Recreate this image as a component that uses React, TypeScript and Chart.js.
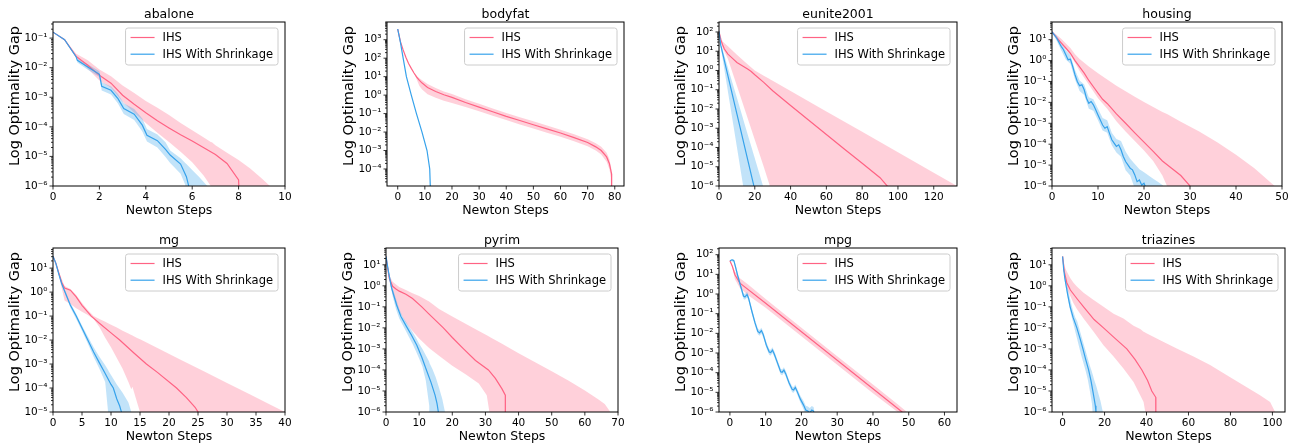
import React, { useEffect, useRef } from "react";
import { Chart, registerables } from "chart.js";

Chart.register(...registerables);

const FONT = "'DejaVu Sans', 'Liberation Sans', sans-serif";
const RED = "rgb(255, 99, 132)";
const RED_FILL = "rgba(255, 99, 132, 0.3)";
const BLUE = "rgb(54, 162, 235)";
const BLUE_FILL = "rgba(54, 162, 235, 0.3)";

// ---------------- abalone ----------------
const abaloneXTicks = [0, 2, 4, 6, 8, 10];
const abaloneIhsX = [0, 0.5, 1, 1.5, 2, 2.5, 3, 3.5, 4, 4.5, 5, 5.5, 6, 6.5, 7, 7.5, 8, 8.05];
const abaloneIhsMean = [0.159, 0.088, 0.0241, 0.012, 5.5e-3, 3.0e-3, 1.17e-3, 5.8e-4, 3.0e-4, 1.6e-4, 9.2e-5, 5.4e-5, 3.3e-5, 1.96e-5, 1.17e-5, 5.8e-6, 1.6e-6, 1e-7];
const abaloneIhsBandX = [0, 0.5, 1, 1.5, 2, 2.5, 3, 3.5, 4, 4.5, 5, 5.5, 6, 6.5, 6.8, 6.85, 7, 7.5, 8, 8.5, 9, 9.35, 9.4];
const abaloneIhsUpper = [0.16, 0.09, 0.0296, 0.0177, 8.6e-3, 5.1e-3, 2.5e-3, 1.4e-3, 7.5e-4, 4.4e-4, 2.5e-4, 1.36e-4, 7.7e-5, 4.4e-5, 3.1e-5, 3.0e-5, 2.4e-5, 1.33e-5, 7.5e-6, 3.9e-6, 1.8e-6, 1e-6, 1e-9];
const abaloneIhsLower = [0.158, 0.083, 0.0217, 9.2e-3, 3.7e-3, 2.1e-3, 7.0e-4, 3.0e-4, 1.36e-4, 6.3e-5, 3.1e-5, 1.44e-5, 6.3e-6, 2.2e-6, 1e-6, 1e-9, 1e-9, 1e-9, 1e-9, 1e-9, 1e-9, 1e-9, 1e-9];
const abaloneShrX = [0, 0.5, 1, 1.05, 1.5, 2, 2.1, 2.5, 2.8, 3.05, 3.5, 3.85, 4.05, 4.5, 4.85, 5.05, 5.5, 5.75, 5.85, 5.86];
const abaloneShrMean = [0.159, 0.088, 0.023, 0.0177, 0.0105, 5.96e-3, 2.35e-3, 1.72e-3, 9.0e-4, 4.15e-4, 2.67e-4, 1.14e-4, 5.2e-5, 3.4e-5, 1.72e-5, 1.11e-5, 5.5e-6, 2.06e-6, 1e-6, 1e-8];
const abaloneShrBandX = [0, 0.5, 1, 1.05, 1.5, 2, 2.1, 2.5, 2.8, 3.05, 3.5, 3.85, 4.05, 4.5, 4.85, 5.05, 5.5, 5.7, 5.75, 6, 6.3, 6.65, 6.7];
const abaloneShrUpper = [0.16, 0.09, 0.024, 0.021, 0.013, 7.5e-3, 3.2e-3, 2.3e-3, 1.3e-3, 6.3e-4, 4.0e-4, 1.9e-4, 8.5e-5, 5.5e-5, 3.0e-5, 1.6e-5, 8.6e-6, 6e-6, 5.5e-6, 3.5e-6, 2.0e-6, 1e-6, 1e-9];
const abaloneShrLower = [0.158, 0.086, 0.022, 0.015, 8.5e-3, 4.8e-3, 1.7e-3, 1.25e-3, 6.2e-4, 2.7e-4, 1.7e-4, 7e-5, 3.2e-5, 2.0e-5, 9.5e-6, 6e-6, 2.6e-6, 1.1e-6, 1e-9, 1e-9, 1e-9, 1e-9, 1e-9];

// ---------------- bodyfat ----------------
const bodyfatXTicks = [0, 10, 20, 30, 40, 50, 60, 70, 80];
const bodyfatIhsX = [0, 1, 2, 3, 4, 5, 6, 7, 8, 9, 11, 14, 17, 20, 25, 30, 35, 40, 45, 50, 55, 60, 65, 70, 73, 75, 77, 78, 78.8, 78.85];
const bodyfatIhsMean = [3800, 790, 280, 112, 52, 28, 15.8, 9.5, 6.3, 4.5, 2.6, 1.58, 1.05, 0.76, 0.4, 0.224, 0.126, 0.071, 0.042, 0.025, 0.0148, 8.9e-3, 5.0e-3, 2.7e-3, 1.58e-3, 1.0e-3, 4.5e-4, 2.0e-4, 5.6e-5, 1e-7];
const bodyfatIhsBandX = [0, 1, 2, 3, 4, 5, 6, 7, 8, 9, 11, 14, 17, 20, 25, 30, 35, 40, 45, 50, 55, 60, 65, 70, 73, 75, 77, 78, 78.8, 78.85];
const bodyfatIhsUpper = [3800, 790, 280, 112, 52, 28, 15.8, 11.2, 8.3, 6.3, 4.0, 2.4, 1.58, 1.15, 0.6, 0.34, 0.19, 0.107, 0.063, 0.038, 0.0224, 0.0135, 7.6e-3, 4.1e-3, 2.5e-3, 1.58e-3, 7.6e-4, 3.5e-4, 1.0e-4, 1e-7];
const bodyfatIhsLower = [3800, 790, 280, 112, 52, 28, 15.8, 7.1, 3.16, 2.0, 1.12, 0.71, 0.5, 0.38, 0.224, 0.132, 0.076, 0.045, 0.026, 0.0158, 9.3e-3, 5.6e-3, 3.16e-3, 1.7e-3, 1.0e-3, 6.0e-4, 2.5e-4, 1.0e-4, 2.5e-5, 1e-7];
const bodyfatShrX = [0, 1, 2, 3.2, 5, 6.9, 8.95, 10.8, 11.8, 12, 12.05];
const bodyfatShrMean = [3800, 710, 100, 10, 1.0, 0.1, 0.01, 1e-3, 1e-4, 1.26e-5, 1e-7];
const bodyfatShrBandX: number[] = [];
const bodyfatShrUpper: number[] = [];
const bodyfatShrLower: number[] = [];

// ---------------- eunite2001 ----------------
const euniteXTicks = [0, 20, 40, 60, 80, 100, 120];
const euniteIhsX = [0, 1, 2, 3, 5, 8, 10, 13, 16, 18, 20, 25, 30, 40, 50, 60, 70, 80, 90, 94, 94.1];
const euniteIhsMean = [108, 40, 21.9, 13.0, 7.1, 3.9, 2.63, 1.77, 1.18, 0.89, 0.6, 0.24, 0.088, 0.0151, 2.7e-3, 4.7e-4, 8.4e-5, 1.51e-5, 2.7e-6, 1e-6, 1e-8];
const euniteIhsBandX = [0, 2, 5, 10, 15, 20, 25, 28.3, 28.4, 30, 40, 60, 80, 100, 120, 133];
const euniteIhsUpper = [108, 32, 18, 6.6, 2.5, 1.0, 0.54, 0.36, 0.355, 0.29, 0.087, 7.5e-3, 6.5e-4, 5.6e-5, 4.9e-6, 1e-6];
const euniteIhsLower = [108, 15, 4.0, 0.16, 6.3e-3, 2.5e-4, 1e-5, 1.1e-6, 1e-9, 1e-9, 1e-9, 1e-9, 1e-9, 1e-9, 1e-9, 1e-9];
const euniteShrX = [0, 1, 5, 10, 15, 19.5, 19.6];
const euniteShrMean = [108, 20, 0.52, 5.6e-3, 6.0e-5, 1e-6, 1e-8];
const euniteShrBandX = [0, 1, 5, 10, 13.5, 13.6, 15, 19.5, 24.6, 24.7];
const euniteShrUpper = [108, 25, 1.4, 0.038, 3.0e-3, 2.8e-3, 1e-3, 3.9e-5, 1e-6, 1e-9];
const euniteShrLower = [108, 16, 0.079, 1.05e-4, 1e-6, 1e-9, 1e-9, 1e-9, 1e-9, 1e-9];

// ---------------- housing ----------------
const housingXTicks = [0, 10, 20, 30, 40, 50];
const housingIhsX = [0, 1, 2, 3, 4, 5, 6, 7, 8, 9, 10, 11, 12, 14, 16, 18, 20, 22, 24, 26, 28, 30, 30.1];
const housingIhsMean = [23.4, 12.6, 7.1, 4.0, 2.24, 1.0, 0.5, 0.25, 0.112, 0.056, 0.028, 0.0141, 8.9e-3, 2.8e-3, 1.0e-3, 3.5e-4, 1.26e-4, 4.5e-5, 1.58e-5, 7.1e-6, 3.16e-6, 1e-6, 1e-8];
const housingIhsBandX = [0, 2, 4, 5, 6, 8, 10, 12, 14, 16, 18, 20, 22, 24, 25, 25.1, 28, 32, 36, 40, 44, 48.4, 48.5];
const housingIhsUpper = [26, 11.2, 4.0, 2.0, 1.2, 0.52, 0.25, 0.126, 0.063, 0.034, 0.0186, 0.0105, 6.0e-3, 3.5e-3, 2.75e-3, 2.7e-3, 1.2e-3, 4.0e-4, 1.2e-4, 3.16e-5, 7.1e-6, 1e-6, 1e-9];
const housingIhsLower = [22.4, 6.3, 1.78, 0.79, 0.316, 0.071, 0.0158, 5.0e-3, 1.26e-3, 4.0e-4, 1.41e-4, 5.0e-5, 1.58e-5, 3.16e-6, 1e-6, 1e-9, 1e-9, 1e-9, 1e-9, 1e-9, 1e-9, 1e-9, 1e-9];
const housingShrX = [0, 1, 2, 2.5, 3, 3.5, 4, 4.5, 5, 5.5, 6, 6.5, 7, 7.5, 8, 8.5, 9, 9.5, 10, 10.5, 11, 11.5, 12, 12.5, 13, 13.5, 14, 14.5, 15, 15.5, 16, 16.5, 17, 17.5, 18, 18.5, 19, 19.5, 20, 20.3, 20.4];
const housingShrMean = [23.4, 12.0, 4.8, 3.3, 1.9, 1.1, 1.17, 0.52, 0.21, 0.1, 0.063, 0.069, 0.04, 0.0158, 9.1e-3, 0.011, 7.6e-3, 4.4e-3, 2.5e-3, 1.45e-3, 8.3e-4, 5.8e-4, 6.9e-4, 3.3e-4, 1.62e-4, 1.12e-4, 7.8e-5, 9.3e-5, 5.4e-5, 2.6e-5, 1.48e-5, 1.02e-5, 7.1e-6, 5.9e-6, 3.4e-6, 1.62e-6, 1.95e-6, 1.12e-6, 1.35e-6, 9.3e-7, 1e-8];
const housingShrBandX = [0, 1, 2, 3, 4, 5, 6, 7, 8, 9, 10, 11, 12, 13, 14, 15, 16, 17, 17.8, 17.9, 19, 20, 21, 22, 23, 24, 24.2, 24.3];
const housingShrUpper = [25, 15.8, 7.1, 3.16, 1.78, 0.355, 0.112, 0.071, 0.0178, 0.0141, 5.0e-3, 1.78e-3, 1.41e-3, 3.5e-4, 1.78e-4, 1.41e-4, 4.5e-5, 2.0e-5, 1.26e-5, 1.2e-5, 6.3e-6, 4.5e-6, 3.16e-6, 2.24e-6, 1.58e-6, 1.12e-6, 1e-6, 1e-9];
const housingShrLower = [22.4, 8.9, 3.16, 1.12, 0.71, 0.126, 0.035, 0.0224, 5.0e-3, 4.0e-3, 1.41e-3, 4.5e-4, 3.5e-4, 8.9e-5, 4.0e-5, 2.5e-5, 5.6e-6, 3.16e-6, 1e-6, 1e-9, 1e-9, 1e-9, 1e-9, 1e-9, 1e-9, 1e-9, 1e-9, 1e-9];

// ---------------- mg ----------------
const mgXTicks = [0, 5, 10, 15, 20, 25, 30, 35, 40];
const mgIhsX = [0, 0.5, 1, 1.5, 2, 3, 4, 5, 6.6, 8, 10, 11.5, 14, 16.1, 18, 21.3, 23, 24.5, 25, 25.05];
const mgIhsMean = [31, 15.8, 6.3, 2.51, 1.48, 1.2, 0.63, 0.28, 0.1, 0.05, 0.02, 0.01, 2.8e-3, 1e-3, 4.5e-4, 1e-4, 4.0e-5, 1.58e-5, 1e-5, 1e-7];
const mgIhsBandX = [0, 0.5, 1, 2, 3, 4, 5, 6, 7, 8, 9, 10, 11, 12, 13, 13.5, 13.7, 14, 14.5, 15, 15.1, 18, 22, 26, 30, 34, 38, 40];
const mgIhsUpper = [31, 16.6, 7.1, 1.78, 1.35, 0.76, 0.355, 0.178, 0.1, 0.076, 0.058, 0.044, 0.033, 0.0245, 0.0186, 0.0162, 0.0155, 0.0141, 0.0123, 0.0107, 0.0105, 4.7e-3, 1.51e-3, 5.0e-4, 1.62e-4, 5.4e-5, 1.74e-5, 1e-5];
const mgIhsLower = [31, 15.1, 5.0, 0.45, 0.32, 0.21, 0.15, 0.112, 0.075, 0.035, 0.0126, 5.0e-3, 1.78e-3, 6.3e-4, 1.78e-4, 8.9e-5, 1.12e-4, 6.3e-5, 2.5e-5, 1e-5, 1e-9, 1e-9, 1e-9, 1e-9, 1e-9, 1e-9, 1e-9, 1e-9];
const mgShrX = [0, 0.5, 1, 1.5, 2, 3, 4, 5, 6, 7, 8, 9, 10, 10.4, 11, 11.5, 11.8, 11.85];
const mgShrMean = [31, 15.8, 5.6, 2.24, 1.12, 0.28, 0.1, 0.0316, 0.01, 3.16e-3, 1.12e-3, 4.0e-4, 1.41e-4, 1e-4, 3.5e-5, 1.78e-5, 1e-5, 1e-7];
const mgShrBandX = [0, 1, 2, 3, 4, 5, 6, 7, 8, 9, 9.5, 9.6, 10, 11, 12, 13, 13.5, 13.6];
const mgShrUpper = [31.6, 6.3, 1.32, 0.355, 0.126, 0.04, 0.0141, 5.0e-3, 2.0e-3, 8.9e-4, 5.6e-4, 5.0e-4, 3.5e-4, 1.41e-4, 6.3e-5, 2.5e-5, 1e-5, 1e-9];
const mgShrLower = [30, 5.0, 0.95, 0.224, 0.076, 0.024, 7.1e-3, 2.0e-3, 6.3e-4, 1.78e-4, 1e-5, 1e-9, 1e-9, 1e-9, 1e-9, 1e-9, 1e-9, 1e-9];

// ---------------- pyrim ----------------
const pyrimXTicks = [0, 10, 20, 30, 40, 50, 60, 70];
const pyrimIhsX = [0, 0.5, 1, 2, 3, 4, 6, 8, 10.8, 13, 17.3, 20, 23.4, 27, 30.9, 33, 35, 36, 36.01];
const pyrimIhsMean = [25, 7.1, 2.24, 0.95, 0.71, 0.56, 0.4, 0.25, 0.1, 0.045, 0.01, 3.5e-3, 1e-3, 2.8e-4, 1e-4, 4.0e-5, 1.26e-5, 6.3e-6, 1e-8];
const pyrimIhsBandX = [0, 0.5, 1, 2, 4, 6, 8, 10, 13, 16, 20, 24, 28, 30.4, 31.2, 31.3, 35, 40, 45, 50, 55, 60, 64, 66, 67.7, 67.8];
const pyrimIhsUpper = [25, 7.9, 3.16, 1.58, 0.89, 0.63, 0.45, 0.33, 0.178, 0.079, 0.035, 0.0158, 7.1e-3, 4.5e-3, 3.8e-3, 3.7e-3, 1.78e-3, 6.3e-4, 2.34e-4, 8.7e-5, 3.16e-5, 1.05e-5, 4.0e-6, 2.4e-6, 1e-6, 1e-9];
const pyrimIhsLower = [25, 6.3, 1.78, 0.4, 0.063, 0.0178, 7.1e-3, 3.16e-3, 1.12e-3, 4.7e-4, 1.58e-4, 6.3e-5, 2.24e-5, 6.3e-6, 1e-6, 1e-9, 1e-9, 1e-9, 1e-9, 1e-9, 1e-9, 1e-9, 1e-9, 1e-9, 1e-9, 1e-9];
const pyrimShrX = [0, 0.5, 1, 1.7, 3.2, 4.5, 6.2, 7.7, 9.3, 10.8, 12.3, 13.6, 14.8, 15.4, 15.8, 15.85];
const pyrimShrMean = [25, 7.9, 2.8, 0.78, 0.123, 0.035, 0.0115, 4.5e-3, 1.51e-3, 4.0e-4, 8.9e-5, 2.5e-5, 6.3e-6, 2.5e-6, 1e-6, 1e-8];
const pyrimShrBandX = [0, 1, 2, 3, 4, 5, 6, 7, 8, 9, 10, 11, 12, 13, 13.1, 13.2, 14, 15, 16, 17, 17.8, 17.9];
const pyrimShrUpper = [26, 4.0, 0.79, 0.25, 0.079, 0.035, 0.02, 0.0112, 6.3e-3, 3.5e-3, 1.78e-3, 1e-3, 5.0e-4, 2.5e-4, 2.24e-4, 2.1e-4, 1.12e-4, 4.5e-5, 1.41e-5, 4.0e-6, 1e-6, 1e-9];
const pyrimShrLower = [24, 2.0, 0.316, 0.079, 0.028, 0.0141, 7.1e-3, 3.5e-3, 1.78e-3, 7.9e-4, 3.5e-4, 1.41e-4, 3.16e-5, 2.0e-6, 1e-6, 1e-9, 1e-9, 1e-9, 1e-9, 1e-9, 1e-9, 1e-9];

// ---------------- mpg ----------------
const mpgXTicks = [0, 10, 20, 30, 40, 50, 60];
const mpgIhsX = [0, 0.7, 1.4, 2.8, 10, 20, 30, 40, 48.1, 48.2];
const mpgIhsMean = [49, 25, 9.5, 3.55, 0.34, 0.012, 4.3e-4, 1.51e-5, 1.02e-6, 1e-8];
const mpgIhsBandX = [0, 0.7, 1.4, 2.8, 5, 10, 20, 30, 40, 46.9, 47, 49.5, 49.6];
const mpgIhsUpper = [49, 28, 14.1, 6.3, 3.16, 0.56, 0.019, 6.8e-4, 2.5e-5, 2.5e-6, 2.4e-6, 1e-6, 1e-9];
const mpgIhsLower = [49, 22.4, 5.6, 2.0, 0.89, 0.2, 7.1e-3, 2.5e-4, 8.9e-6, 1e-6, 1e-9, 1e-9, 1e-9];
const mpgShrX = [0, 0.6, 1.1, 1.6, 2.3, 3.0, 3.8, 4.2, 4.8, 5.2, 6.1, 7.0, 7.8, 8.3, 8.8, 9.3, 10.2, 11.0, 11.4, 11.9, 12.4, 13.3, 14.2, 14.6, 15.1, 15.6, 16.5, 17.4, 17.8, 18.3, 18.8, 19.7, 20.6, 21.2, 21.8, 22.3, 22.9, 23.4, 23.6];
const mpgShrMean = [49, 55, 50, 22.4, 7.1, 2.51, 0.79, 0.71, 0.93, 0.63, 0.141, 0.035, 0.0126, 0.0105, 0.0138, 8.9e-3, 2.5e-3, 1.12e-3, 1.05e-3, 1.41e-3, 8.9e-4, 3.16e-4, 1.12e-4, 1.05e-4, 1.35e-4, 8.9e-5, 3.16e-5, 1.41e-5, 1.32e-5, 1.78e-5, 1.12e-5, 4.5e-6, 2.24e-6, 1.26e-6, 1.12e-6, 8.9e-7, 1.26e-6, 1.12e-6, 5e-7];
const mpgShrBandX = [0, 0.6, 1.1, 1.6, 2.3, 3.0, 3.8, 4.2, 4.8, 5.2, 6.1, 7.0, 7.8, 8.3, 8.8, 9.3, 10.2, 11.0, 11.4, 11.9, 12.4, 13.3, 14.2, 14.6, 15.1, 15.6, 16.5, 17.4, 17.8, 18.3, 18.8, 19.7, 20.6, 21.2, 21.8, 22.3, 22.9, 23.4, 23.6];
const mpgShrUpper = [50, 60, 58, 31, 10, 3.5, 1.1, 1.0, 1.3, 0.88, 0.2, 0.049, 0.0176, 0.0147, 0.0193, 0.0125, 3.5e-3, 1.57e-3, 1.47e-3, 1.97e-3, 1.25e-3, 4.4e-4, 1.57e-4, 1.47e-4, 1.89e-4, 1.25e-4, 4.4e-5, 1.97e-5, 1.85e-5, 2.5e-5, 1.57e-5, 6.8e-6, 3.6e-6, 2.1e-6, 1.9e-6, 1.6e-6, 2.0e-6, 1.8e-6, 1.2e-6];
const mpgShrLower = [48, 45, 42, 16, 5.1, 1.8, 0.56, 0.51, 0.66, 0.45, 0.1, 0.025, 9e-3, 7.5e-3, 9.9e-3, 6.4e-3, 1.8e-3, 8e-4, 7.5e-4, 1.0e-3, 6.4e-4, 2.26e-4, 8e-5, 7.5e-5, 9.6e-5, 6.4e-5, 2.26e-5, 1.0e-5, 9.4e-6, 1.27e-5, 8e-6, 3.0e-6, 1.4e-6, 7e-7, 6e-7, 4.5e-7, 6e-7, 5e-7, 2e-7];

// ---------------- triazines ----------------
const triazinesXTicks = [0, 20, 40, 60, 80, 100];
const triazinesIhsX = [0, 0.8, 2, 3.7, 6.8, 10, 15, 19.5, 25, 30.6, 34.5, 37.8, 40.5, 42.5, 44.4, 44.45];
const triazinesIhsMean = [25, 4.8, 1.41, 0.63, 0.25, 0.1, 0.025, 0.01, 3.16e-3, 1e-3, 3.16e-4, 1e-4, 3.16e-5, 1e-5, 5.0e-6, 1e-8];
const triazinesIhsBandX = [0, 1.3, 2, 3.7, 5.2, 6.8, 10, 14.8, 19.5, 24.3, 29, 33.8, 37, 38.6, 39.4, 39.5, 46.5, 54.4, 62.4, 70.3, 78.3, 86.2, 94.1, 98.9, 101.3, 101.4];
const triazinesIhsUpper = [25, 6.9, 4.8, 2.29, 1.41, 0.93, 0.47, 0.214, 0.1, 0.047, 0.028, 0.0126, 8.9e-3, 6.6e-3, 6.0e-3, 5.9e-3, 2.6e-3, 1.05e-3, 4.3e-4, 1.7e-4, 5.6e-5, 1.86e-5, 6.3e-6, 3.0e-6, 1e-6, 1e-9];
const triazinesIhsLower = [25, 2.51, 0.78, 0.316, 0.148, 0.079, 0.028, 6.6e-3, 1.51e-3, 4.3e-4, 1.17e-4, 2.7e-5, 6.3e-6, 3.0e-6, 1e-6, 1e-9, 1e-9, 1e-9, 1e-9, 1e-9, 1e-9, 1e-9, 1e-9, 1e-9, 1e-9, 1e-9];
const triazinesShrX = [0, 0.5, 1, 1.75, 2.5, 3.6, 5, 6.8, 8.3, 9.7, 11, 12.4, 13.5, 14.4, 15.1, 15.6, 15.9, 15.95];
const triazinesShrMean = [25, 6.3, 2.51, 0.93, 0.355, 0.1, 0.0316, 0.01, 3.16e-3, 1e-3, 3.16e-4, 1e-4, 3.16e-5, 1e-5, 4.0e-6, 2.0e-6, 1e-6, 1e-8];
const triazinesShrBandX = [0, 1, 2, 3, 4, 5, 6, 7, 8, 9, 10, 11, 12, 13, 14, 14.3, 14.4, 15, 16, 17, 18, 19.2, 19.3];
const triazinesShrUpper = [26, 3.5, 1.26, 0.45, 0.16, 0.063, 0.032, 0.02, 8.9e-3, 4.0e-3, 1.78e-3, 7.9e-4, 3.5e-4, 1.58e-4, 7.9e-5, 6.3e-5, 5.9e-5, 3.5e-5, 1.78e-5, 7.9e-6, 3.5e-6, 1e-6, 1e-9];
const triazinesShrLower = [24, 1.8, 0.45, 0.13, 0.045, 0.018, 7e-3, 2.8e-3, 1.12e-3, 4.5e-4, 2.0e-4, 8.9e-5, 3.5e-5, 1.0e-5, 2.5e-6, 1e-6, 1e-9, 1e-9, 1e-9, 1e-9, 1e-9, 1e-9, 1e-9];

// ---------------- panel definitions (axis limits + plot box in page pixels) ----------------
interface PanelDef {
  title: string;
  xTicks: number[];
  xMin: number; xMax: number; yMin: number; yMax: number;
  ihsX: number[]; ihsMean: number[]; ihsBandX: number[]; ihsUpper: number[]; ihsLower: number[];
  shrX: number[]; shrMean: number[]; shrBandX: number[]; shrUpper: number[]; shrLower: number[];
  box: [number, number, number, number]; // left, right, top, bottom of plot area
}

const PANELS: PanelDef[] = [
  { title: "abalone", xTicks: abaloneXTicks, xMin: 0, xMax: 10, yMin: 1e-6, yMax: 0.35,
    ihsX: abaloneIhsX, ihsMean: abaloneIhsMean, ihsBandX: abaloneIhsBandX, ihsUpper: abaloneIhsUpper, ihsLower: abaloneIhsLower,
    shrX: abaloneShrX, shrMean: abaloneShrMean, shrBandX: abaloneShrBandX, shrUpper: abaloneShrUpper, shrLower: abaloneShrLower,
    box: [53, 285, 22, 186] },
  { title: "bodyfat", xTicks: bodyfatXTicks, xMin: -3.95, xMax: 83.4, yMin: 1.2e-5, yMax: 9100,
    ihsX: bodyfatIhsX, ihsMean: bodyfatIhsMean, ihsBandX: bodyfatIhsBandX, ihsUpper: bodyfatIhsUpper, ihsLower: bodyfatIhsLower,
    shrX: bodyfatShrX, shrMean: bodyfatShrMean, shrBandX: bodyfatShrBandX, shrUpper: bodyfatShrUpper, shrLower: bodyfatShrLower,
    box: [387, 624, 22, 186] },
  { title: "eunite2001", xTicks: euniteXTicks, xMin: 0, xMax: 133, yMin: 1e-6, yMax: 330,
    ihsX: euniteIhsX, ihsMean: euniteIhsMean, ihsBandX: euniteIhsBandX, ihsUpper: euniteIhsUpper, ihsLower: euniteIhsLower,
    shrX: euniteShrX, shrMean: euniteShrMean, shrBandX: euniteShrBandX, shrUpper: euniteShrUpper, shrLower: euniteShrLower,
    box: [719, 957, 22, 186] },
  { title: "housing", xTicks: housingXTicks, xMin: 0, xMax: 50, yMin: 1e-6, yMax: 70,
    ihsX: housingIhsX, ihsMean: housingIhsMean, ihsBandX: housingIhsBandX, ihsUpper: housingIhsUpper, ihsLower: housingIhsLower,
    shrX: housingShrX, shrMean: housingShrMean, shrBandX: housingShrBandX, shrUpper: housingShrUpper, shrLower: housingShrLower,
    box: [1052, 1282, 22, 186] },
  { title: "mg", xTicks: mgXTicks, xMin: 0, xMax: 40, yMin: 1e-5, yMax: 69,
    ihsX: mgIhsX, ihsMean: mgIhsMean, ihsBandX: mgIhsBandX, ihsUpper: mgIhsUpper, ihsLower: mgIhsLower,
    shrX: mgShrX, shrMean: mgShrMean, shrBandX: mgShrBandX, shrUpper: mgShrUpper, shrLower: mgShrLower,
    box: [53, 285, 248, 412] },
  { title: "pyrim", xTicks: pyrimXTicks, xMin: 0, xMax: 70, yMin: 1e-6, yMax: 63,
    ihsX: pyrimIhsX, ihsMean: pyrimIhsMean, ihsBandX: pyrimIhsBandX, ihsUpper: pyrimIhsUpper, ihsLower: pyrimIhsLower,
    shrX: pyrimShrX, shrMean: pyrimShrMean, shrBandX: pyrimShrBandX, shrUpper: pyrimShrUpper, shrLower: pyrimShrLower,
    box: [386, 618, 248, 412] },
  { title: "mpg", xTicks: mpgXTicks, xMin: -3.05, xMax: 63.5, yMin: 1e-6, yMax: 219,
    ihsX: mpgIhsX, ihsMean: mpgIhsMean, ihsBandX: mpgIhsBandX, ihsUpper: mpgIhsUpper, ihsLower: mpgIhsLower,
    shrX: mpgShrX, shrMean: mpgShrMean, shrBandX: mpgShrBandX, shrUpper: mpgShrUpper, shrLower: mpgShrLower,
    box: [719, 957, 248, 412] },
  { title: "triazines", xTicks: triazinesXTicks, xMin: -5.05, xMax: 106, yMin: 1e-6, yMax: 63,
    ihsX: triazinesIhsX, ihsMean: triazinesIhsMean, ihsBandX: triazinesIhsBandX, ihsUpper: triazinesIhsUpper, ihsLower: triazinesIhsLower,
    shrX: triazinesShrX, shrMean: triazinesShrMean, shrBandX: triazinesShrBandX, shrUpper: triazinesShrUpper, shrLower: triazinesShrLower,
    box: [1052, 1285, 248, 412] },
];

// ---------------- helpers ----------------
const SUP: Record<string, string> = {
  "-": "\u207B", "0": "\u2070", "1": "\u00B9", "2": "\u00B2", "3": "\u00B3",
  "4": "\u2074", "5": "\u2075", "6": "\u2076", "7": "\u2077", "8": "\u2078", "9": "\u2079",
};
function isDecade(v: number): boolean {
  const l = Math.log10(v);
  return Math.abs(l - Math.round(l)) < 1e-6;
}
function isWholeTick(v: number): boolean {
  if (isDecade(v)) return true;
  const f = Math.floor(Math.log10(v));
  const m = v / Math.pow(10, f);
  return Math.abs(m - Math.round(m)) < 1e-4;
}
function decadeLabel(v: number): string {
  const e = Math.round(Math.log10(v));
  return "10" + String(e).split("").map((c) => SUP[c] || c).join("");
}
function pts(xs: number[], ys: number[]) {
  return xs.map((x, i) => ({ x, y: ys[i] }));
}

const Y_AXIS_W = 50;
const RIGHT_PAD = 12;
const TOP_PAD = 22;
const X_AXIS_H = 30;
const CANVAS_H = 220;

function PanelChart({ p }: { p: PanelDef }) {
  const ref = useRef<HTMLCanvasElement | null>(null);
  const [L, R, T, B] = p.box;
  const width = R - L + Y_AXIS_W + RIGHT_PAD;
  const plotH = B - T;
  const bottomPad = CANVAS_H - TOP_PAD - plotH - X_AXIS_H;

  useEffect(() => {
    const canvas = ref.current;
    if (!canvas) return;
    const datasets: any[] = [];
    datasets.push({ label: "IHS With Shrinkage", data: pts(p.shrX, p.shrMean), borderColor: BLUE, borderWidth: 1.2, fill: false, order: 0 });
    datasets.push({ label: "IHS", data: pts(p.ihsX, p.ihsMean), borderColor: RED, borderWidth: 1.2, fill: false, order: 1 });
    if (p.shrBandX.length) {
      const lowerIdx = datasets.length + 1;
      datasets.push({ label: "shrUpper", data: pts(p.shrBandX, p.shrUpper), borderColor: "rgba(0,0,0,0)", borderWidth: 1, backgroundColor: BLUE_FILL, fill: lowerIdx, order: 2 });
      datasets.push({ label: "shrLower", data: pts(p.shrBandX, p.shrLower), borderColor: "rgba(0,0,0,0)", borderWidth: 1, fill: false, order: 3 });
    }
    if (p.ihsBandX.length) {
      const lowerIdx = datasets.length + 1;
      datasets.push({ label: "ihsUpper", data: pts(p.ihsBandX, p.ihsUpper), borderColor: "rgba(0,0,0,0)", borderWidth: 1, backgroundColor: RED_FILL, fill: lowerIdx, order: 4 });
      datasets.push({ label: "ihsLower", data: pts(p.ihsBandX, p.ihsLower), borderColor: "rgba(0,0,0,0)", borderWidth: 1, fill: false, order: 5 });
    }

    const deco = {
      id: "deco",
      afterDraw(chart: any) {
        const ctx: CanvasRenderingContext2D = chart.ctx;
        const a = chart.chartArea;
        const xs = chart.scales.x;
        const ys = chart.scales.y;
        ctx.save();
        // tick marks
        ctx.strokeStyle = "#000";
        ctx.lineWidth = 0.8;
        ctx.beginPath();
        for (const t of xs.ticks) {
          const px = xs.getPixelForValue(t.value);
          ctx.moveTo(px, a.bottom);
          ctx.lineTo(px, a.bottom + 3.5);
        }
        for (const t of ys.ticks) {
          const py = ys.getPixelForValue(t.value);
          const len = isDecade(t.value) ? 3.5 : 2;
          ctx.moveTo(a.left, py);
          ctx.lineTo(a.left - len, py);
        }
        ctx.stroke();
        // spines
        ctx.lineWidth = 1;
        ctx.strokeRect(a.left, a.top, a.right - a.left, a.bottom - a.top);
        // titles
        ctx.fillStyle = "#000";
        ctx.textAlign = "center";
        ctx.textBaseline = "alphabetic";
        ctx.font = `12.5px ${FONT}`;
        const cx = (a.left + a.right) / 2;
        ctx.fillText(p.title, cx, a.top - 4);
        ctx.fillText("Newton Steps", cx, a.bottom + 27.5);
        ctx.save();
        ctx.translate(a.left - 34, (a.top + a.bottom) / 2 - 8);
        ctx.rotate(-Math.PI / 2);
        ctx.font = `14.5px ${FONT}`;
        ctx.fillText("Log Optimality Gap", 0, 0);
        ctx.restore();
        // legend
        ctx.font = `11.5px ${FONT}`;
        const entries: [string, string][] = [["IHS", RED], ["IHS With Shrinkage", BLUE]];
        const tw = Math.max(...entries.map((e) => ctx.measureText(e[0]).width));
        const bw = 37 + tw + 5;
        const bh = 37;
        const bx = a.right - 7 - bw;
        const by = a.top + 6;
        ctx.beginPath();
        if ((ctx as any).roundRect) (ctx as any).roundRect(bx, by, bw, bh, 2.5);
        else ctx.rect(bx, by, bw, bh);
        ctx.fillStyle = "rgba(255,255,255,0.8)";
        ctx.fill();
        ctx.strokeStyle = "#cccccc";
        ctx.lineWidth = 1;
        ctx.stroke();
        entries.forEach(([txt, col], i) => {
          const y = by + 9.5 + i * 16.7;
          ctx.strokeStyle = col;
          ctx.lineWidth = 1.2;
          ctx.beginPath();
          ctx.moveTo(bx + 5, y);
          ctx.lineTo(bx + 29, y);
          ctx.stroke();
          ctx.fillStyle = "#000";
          ctx.textAlign = "left";
          ctx.textBaseline = "middle";
          ctx.fillText(txt, bx + 37, y + 0.5);
        });
        ctx.restore();
      },
    };

    const chart = new Chart(canvas, {
      type: "line",
      data: { datasets },
      options: {
        responsive: false,
        maintainAspectRatio: false,
        animation: false,
        devicePixelRatio: 1,
        events: [],
        layout: { padding: { left: 0, top: TOP_PAD, right: RIGHT_PAD, bottom: bottomPad } },
        elements: { point: { radius: 0 }, line: { tension: 0 } },
        plugins: { legend: { display: false }, tooltip: { enabled: false }, title: { display: false } },
        scales: {
          x: {
            type: "linear",
            min: p.xMin,
            max: p.xMax,
            grid: { display: false, drawTicks: true, tickLength: 3.5 },
            border: { display: false },
            ticks: {
              autoSkip: false, maxRotation: 0, padding: 1, color: "#000",
              font: { family: FONT, size: 10.5 },
              callback: (v: any) => String(v),
            },
            afterBuildTicks: (s: any) => { s.ticks = p.xTicks.map((v) => ({ value: v })); },
            afterFit: (s: any) => { s.height = X_AXIS_H; s.paddingLeft = 0; s.paddingRight = 0; },
          } as any,
          y: {
            type: "logarithmic",
            min: p.yMin,
            max: p.yMax,
            grid: { display: false, drawTicks: true, tickLength: 3.5 },
            border: { display: false },
            ticks: {
              autoSkip: false, padding: 2, color: "#000",
              font: { family: FONT, size: 10.5 },
              callback: (v: any) => (isDecade(Number(v)) ? decadeLabel(Number(v)) : ""),
            },
            afterBuildTicks: (s: any) => { s.ticks = s.ticks.filter((t: any) => isWholeTick(t.value)); },
            afterFit: (s: any) => { s.width = Y_AXIS_W; s.paddingTop = 0; s.paddingBottom = 0; },
          } as any,
        },
      },
      plugins: [deco],
    });
    return () => chart.destroy();
  }, [p]);

  return (
    <div style={{ position: "absolute", left: L - Y_AXIS_W, top: T - TOP_PAD, width, height: CANVAS_H }}>
      <canvas ref={ref} width={width} height={CANVAS_H} style={{ display: "block", width, height: CANVAS_H }} />
    </div>
  );
}

export default function App() {
  return (
    <div style={{ position: "absolute", left: 0, top: 0, width: 1294, height: 447, background: "#fff", overflow: "hidden" }}>
      {PANELS.map((p) => (
        <PanelChart key={p.title} p={p} />
      ))}
    </div>
  );
}
